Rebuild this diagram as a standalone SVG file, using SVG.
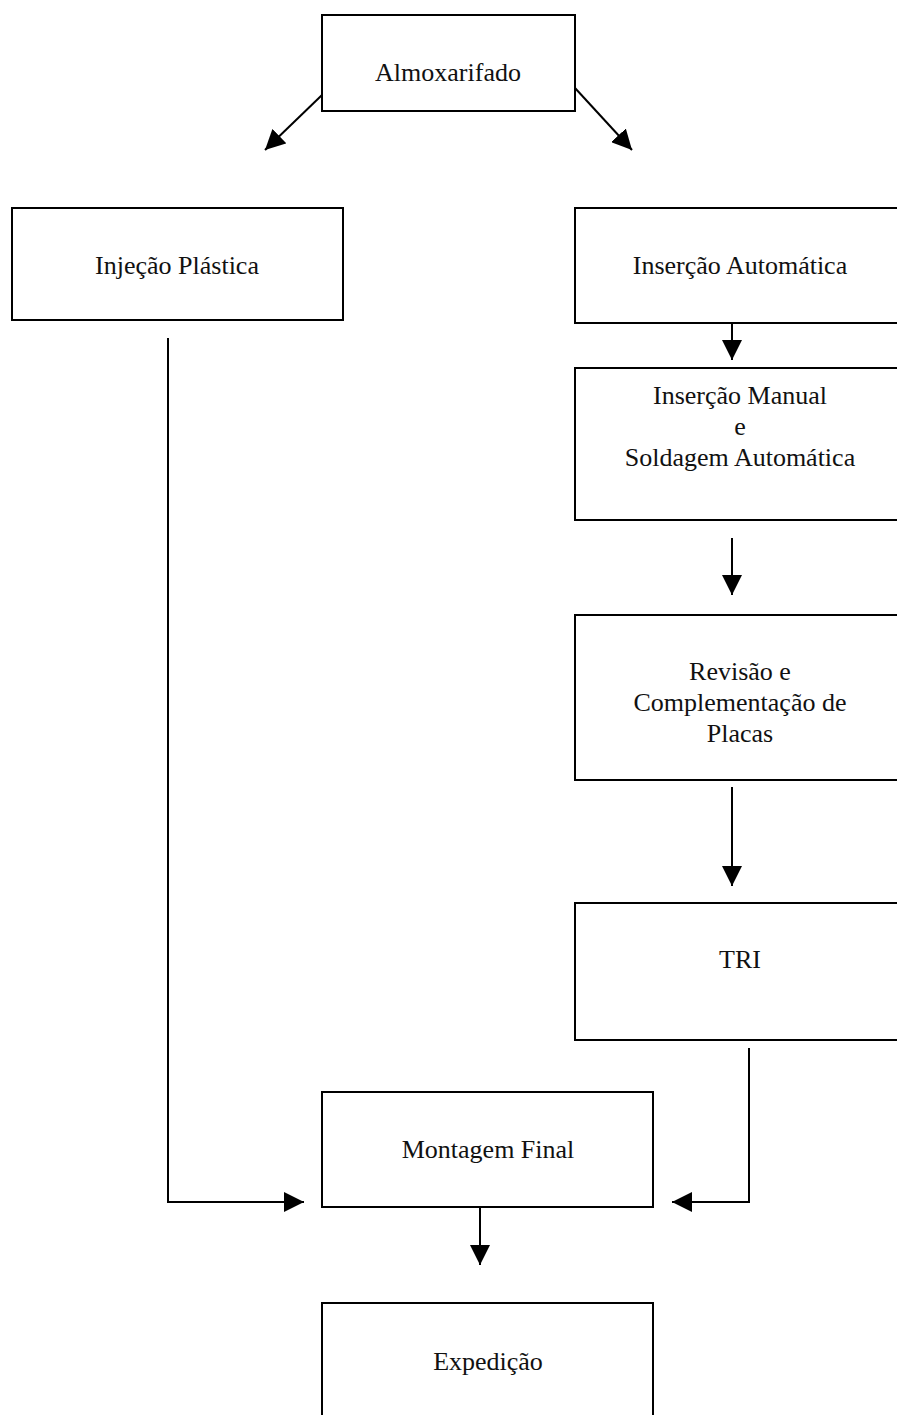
<svg xmlns="http://www.w3.org/2000/svg" width="897" height="1415" viewBox="0 0 897 1415">
<style>
.box{fill:#fff;stroke:#000;stroke-width:2}
.t{font-family:"Liberation Serif","Times New Roman",serif;font-size:26px;fill:#111;text-anchor:middle}
.c{fill:none;stroke:#000;stroke-width:2}
</style>
<defs>
<marker id="ah" viewBox="0 0 10 10" refX="10" refY="5" markerWidth="10" markerHeight="10" markerUnits="userSpaceOnUse" orient="auto">
<path d="M0,0 L10,5 L0,10 z" fill="#000"/>
</marker>
<marker id="ahb" viewBox="0 0 10 10" refX="10" refY="5" markerWidth="20" markerHeight="20" markerUnits="userSpaceOnUse" orient="auto">
<path d="M0,0 L10,5 L0,10 z" fill="#000"/>
</marker>
</defs>
<rect width="897" height="1415" fill="#fff"/>
<g id="almoxarifado"><rect class="box" x="322" y="15" width="253" height="96"/><text class="t" x="448" y="81">Almoxarifado</text></g>
<g id="injecao"><rect class="box" x="12" y="208" width="331" height="112"/><text class="t" x="177" y="274">Injeção Plástica</text></g>
<g id="insercao-auto"><rect class="box" x="575" y="208" width="330" height="115"/><text class="t" x="740" y="274">Inserção Automática</text></g>
<g id="insercao-manual"><rect class="box" x="575" y="368" width="330" height="152"/><text class="t" x="740" y="404">Inserção Manual</text><text class="t" x="740" y="435">e</text><text class="t" x="740" y="466">Soldagem Automática</text></g>
<g id="revisao"><rect class="box" x="575" y="615" width="330" height="165"/><text class="t" x="740" y="680">Revisão e</text><text class="t" x="740" y="711">Complementação de</text><text class="t" x="740" y="742">Placas</text></g>
<g id="tri"><rect class="box" x="575" y="903" width="330" height="137"/><text class="t" x="740" y="968">TRI</text></g>
<g id="montagem"><rect class="box" x="322" y="1092" width="331" height="115"/><text class="t" x="488" y="1158">Montagem Final</text></g>
<g id="expedicao"><rect class="box" x="322" y="1303" width="331" height="130"/><text class="t" x="488" y="1370">Expedição</text></g>
<g id="connectors">
<line class="c" x1="322" y1="95" x2="265" y2="150" marker-end="url(#ahb)"/>
<line class="c" x1="575" y1="88" x2="632" y2="150" marker-end="url(#ahb)"/>
<line class="c" x1="732" y1="323" x2="732" y2="360" marker-end="url(#ahb)"/>
<line class="c" x1="732" y1="538" x2="732" y2="595" marker-end="url(#ahb)"/>
<line class="c" x1="732" y1="787" x2="732" y2="886" marker-end="url(#ahb)"/>
<polyline class="c" points="749,1048 749,1202 672,1202" marker-end="url(#ahb)"/>
<polyline class="c" points="168,338 168,1202 304,1202" marker-end="url(#ahb)"/>
<line class="c" x1="480" y1="1207" x2="480" y2="1265" marker-end="url(#ahb)"/>
</g>
</svg>
